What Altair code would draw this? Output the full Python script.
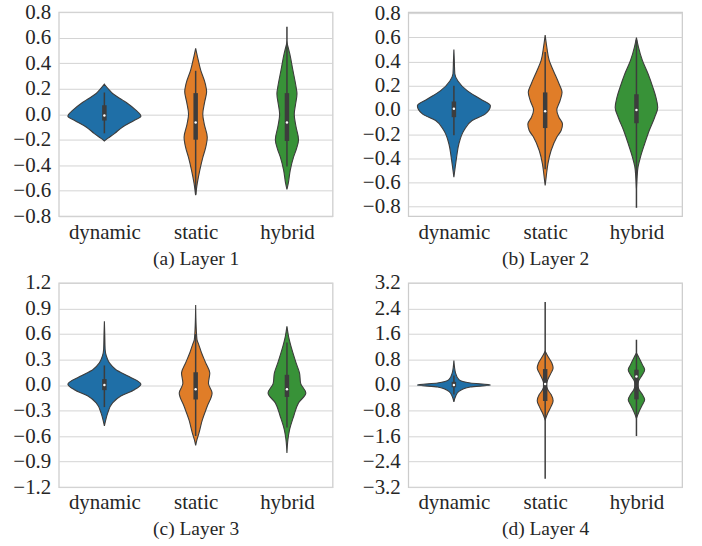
import altair as alt
import pandas as pd

CATEGORIES = ["dynamic", "static", "hybrid"]
PALETTE = ["#1f6fa7", "#e07d28", "#389238"]
CAPTIONS = ["(a) Layer 1", "(b) Layer 2", "(c) Layer 3", "(d) Layer 4"]

# ---- Layer 1 : density profiles (value, relative half-width) ----
L1_DYN_Y = [-0.21, -0.19, -0.152, -0.1, -0.047, -0.016, 0.031, 0.084, 0.11, 0.162, 0.188, 0.235]
L1_DYN_W = [0.0, 0.036, 0.11, 0.2, 0.33, 0.4, 0.345, 0.255, 0.2, 0.09, 0.055, 0.0]
L1_STA_Y = [-0.635, -0.54, -0.44, -0.335, -0.26, -0.18, -0.08, 0.0, 0.1, 0.175, 0.24, 0.345, 0.45, 0.515]
L1_STA_W = [0.0, 0.018, 0.045, 0.08, 0.11, 0.127, 0.095, 0.078, 0.1, 0.12, 0.105, 0.055, 0.02, 0.0]
L1_HYB_Y = [-0.59, -0.54, -0.44, -0.335, -0.27, -0.2, -0.1, 0.0, 0.08, 0.16, 0.214, 0.345, 0.476, 0.56]
L1_HYB_W = [0.0, 0.015, 0.036, 0.073, 0.105, 0.127, 0.1, 0.08, 0.095, 0.11, 0.1, 0.065, 0.03, 0.0]
# box stats: whisker low, q1, median, q3, whisker high (dynamic, static, hybrid)
L1_LO = [-0.15, -0.63, -0.41]
L1_Q1 = [-0.05, -0.2, -0.21]
L1_MED = [-0.01, -0.065, -0.065]
L1_Q3 = [0.07, 0.165, 0.165]
L1_HI = [0.17, 0.34, 0.685]

# ---- Layer 2 ----
L2_DYN_Y = [-0.556, -0.47, -0.39, -0.28, -0.17, -0.088, -0.033, 0.035, 0.09, 0.16, 0.24, 0.3, 0.4, 0.5]
L2_DYN_W = [0.0, 0.015, 0.03, 0.055, 0.11, 0.2, 0.345, 0.4, 0.29, 0.145, 0.044, 0.01, 0.005, 0.0]
L2_STA_Y = [-0.625, -0.556, -0.446, -0.336, -0.226, -0.17, -0.116, -0.06, 0.0, 0.07, 0.146, 0.215, 0.325, 0.41, 0.52, 0.62]
L2_STA_W = [0.0, 0.011, 0.03, 0.065, 0.127, 0.175, 0.19, 0.15, 0.127, 0.16, 0.185, 0.153, 0.09, 0.044, 0.018, 0.0]
L2_HYB_Y = [-0.65, -0.556, -0.47, -0.39, -0.28, -0.17, -0.06, 0.02, 0.1, 0.187, 0.3, 0.41, 0.52, 0.6]
L2_HYB_W = [0.0, 0.007, 0.018, 0.044, 0.09, 0.14, 0.2, 0.233, 0.215, 0.18, 0.127, 0.065, 0.022, 0.0]
L2_LO = [-0.21, -0.49, -0.81]
L2_Q1 = [-0.06, -0.15, -0.11]
L2_MED = [0.01, -0.01, 0.0]
L2_Q3 = [0.07, 0.145, 0.13]
L2_HI = [0.2, 0.48, 0.58]

# ---- Layer 3 ----
L3_DYN_Y = [-0.48, -0.41, -0.33, -0.21, -0.13, -0.055, 0.01, 0.1, 0.18, 0.26, 0.34, 0.42, 0.6, 0.75]
L3_DYN_W = [0.0, 0.015, 0.036, 0.09, 0.18, 0.33, 0.4, 0.27, 0.127, 0.055, 0.022, 0.008, 0.004, 0.0]
L3_STA_Y = [-0.71, -0.64, -0.565, -0.41, -0.25, -0.094, 0.02, 0.14, 0.26, 0.376, 0.49, 0.53, 0.7, 0.94]
L3_STA_W = [0.0, 0.015, 0.036, 0.073, 0.127, 0.18, 0.14, 0.155, 0.11, 0.065, 0.029, 0.015, 0.005, 0.0]
L3_HYB_Y = [-0.8, -0.64, -0.525, -0.37, -0.21, -0.094, 0.02, 0.14, 0.26, 0.415, 0.57, 0.69]
L3_HYB_W = [0.0, 0.011, 0.029, 0.073, 0.127, 0.207, 0.15, 0.138, 0.1, 0.055, 0.018, 0.0]
L3_LO = [-0.26, -0.6, -0.5]
L3_Q1 = [-0.06, -0.17, -0.14]
L3_MED = [0.0, -0.05, -0.05]
L3_Q3 = [0.07, 0.15, 0.12]
L3_HI = [0.23, 0.6, 0.5]

# ---- Layer 4 ----
L4_DYN_Y = [-0.53, -0.36, -0.2, -0.063, 0.0, 0.063, 0.17, 0.38, 0.77]
L4_DYN_W = [0.0, 0.018, 0.055, 0.18, 0.4, 0.18, 0.055, 0.018, 0.0]
L4_STA_Y = [-1.09, -0.88, -0.67, -0.49, -0.3, -0.15, 0.0, 0.17, 0.38, 0.53, 0.69, 0.9, 1.06]
L4_STA_W = [0.0, 0.029, 0.065, 0.087, 0.065, 0.029, 0.011, 0.029, 0.065, 0.087, 0.073, 0.029, 0.0]
L4_HYB_Y = [-1.04, -0.83, -0.62, -0.46, -0.3, -0.146, 0.0, 0.115, 0.32, 0.48, 0.64, 0.85, 1.0]
L4_HYB_W = [0.0, 0.029, 0.065, 0.09, 0.065, 0.029, 0.015, 0.022, 0.065, 0.09, 0.065, 0.029, 0.0]
L4_LO = [-0.3, -2.94, -1.6]
L4_Q1 = [-0.07, -0.5, -0.45]
L4_MED = [0.0, 0.03, 0.27]
L4_Q3 = [0.1, 0.5, 0.48]
L4_HI = [0.3, 2.6, 1.42]

# axis settings per layer
L1_DOMAIN = [-0.8, 0.8]
L2_DOMAIN = [-0.88, 0.81]
L3_DOMAIN = [-1.2, 1.2]
L4_DOMAIN = [-3.2, 3.2]
L1_TICKS = [-0.8, -0.6, -0.4, -0.2, 0.0, 0.2, 0.4, 0.6, 0.8]
L2_TICKS = [-0.8, -0.6, -0.4, -0.2, 0.0, 0.2, 0.4, 0.6, 0.8]
L3_TICKS = [-1.2, -0.9, -0.6, -0.3, 0.0, 0.3, 0.6, 0.9, 1.2]
L4_TICKS = [-3.2, -2.4, -1.6, -0.8, 0.0, 0.8, 1.6, 2.4, 3.2]

FONT = "Liberation Serif"
INK = "#3d3d3d"


def panel(profiles, lo, q1, med, q3, hi, domain, ticks, caption):
    rows = []
    for i, (ys, ws) in enumerate(profiles):
        for y, w in zip(ys, ws):
            rows.append({"cat": CATEGORIES[i], "idx": i, "y": y, "w": w})
    vdf = pd.DataFrame(rows)
    bdf = pd.DataFrame({"cat": CATEGORIES, "idx": list(range(len(CATEGORIES))),
                        "lo": lo, "q1": q1, "med": med, "q3": q3, "hi": hi})

    label_expr = "[" + ",".join("'%s'" % c for c in CATEGORIES) + "][datum.value]"
    xscale = alt.Scale(domain=[-0.5, len(CATEGORIES) - 0.5], nice=False, zero=False)
    yscale = alt.Scale(domain=domain, nice=False, zero=False)
    xaxis = alt.Axis(values=list(range(len(CATEGORIES))), labelExpr=label_expr, grid=False,
                     domain=False, ticks=False, title=caption, labelPadding=5,
                     titlePadding=7)
    yaxis = alt.Axis(values=ticks, format=".1f", grid=True, domain=False, ticks=False,
                     title=None, labelPadding=8)
    color = alt.Color("cat:N", scale=alt.Scale(domain=CATEGORIES, range=PALETTE), legend=None)

    area = alt.Chart(vdf).transform_calculate(
        xa="datum.idx - datum.w", xb="datum.idx + datum.w"
    ).mark_area(orient="horizontal", interpolate="monotone", stroke=INK,
                strokeWidth=1.1, opacity=1).encode(
        y=alt.Y("y:Q", scale=yscale, axis=yaxis),
        x=alt.X("xa:Q", scale=xscale, axis=xaxis),
        x2="xb:Q",
        color=color,
        detail="cat:N",
    )
    whisk = alt.Chart(bdf).mark_rule(color=INK, strokeWidth=1.5).encode(
        x=alt.X("idx:Q", scale=xscale, axis=xaxis),
        y=alt.Y("lo:Q", scale=yscale, axis=yaxis),
        y2="hi:Q",
    )
    box = alt.Chart(bdf).mark_rule(color=INK, strokeWidth=4.5).encode(
        x=alt.X("idx:Q", scale=xscale, axis=xaxis),
        y=alt.Y("q1:Q", scale=yscale, axis=yaxis),
        y2="q3:Q",
    )
    mid = alt.Chart(bdf).mark_point(filled=True, color="white", size=6, opacity=1).encode(
        x=alt.X("idx:Q", scale=xscale, axis=xaxis),
        y=alt.Y("med:Q", scale=yscale, axis=yaxis),
    )
    return alt.layer(area, whisk, box, mid).properties(width=275, height=205)


p1 = panel([(L1_DYN_Y, L1_DYN_W), (L1_STA_Y, L1_STA_W), (L1_HYB_Y, L1_HYB_W)],
           L1_LO, L1_Q1, L1_MED, L1_Q3, L1_HI, L1_DOMAIN, L1_TICKS, CAPTIONS[0])
p2 = panel([(L2_DYN_Y, L2_DYN_W), (L2_STA_Y, L2_STA_W), (L2_HYB_Y, L2_HYB_W)],
           L2_LO, L2_Q1, L2_MED, L2_Q3, L2_HI, L2_DOMAIN, L2_TICKS, CAPTIONS[1])
p3 = panel([(L3_DYN_Y, L3_DYN_W), (L3_STA_Y, L3_STA_W), (L3_HYB_Y, L3_HYB_W)],
           L3_LO, L3_Q1, L3_MED, L3_Q3, L3_HI, L3_DOMAIN, L3_TICKS, CAPTIONS[2])
p4 = panel([(L4_DYN_Y, L4_DYN_W), (L4_STA_Y, L4_STA_W), (L4_HYB_Y, L4_HYB_W)],
           L4_LO, L4_Q1, L4_MED, L4_Q3, L4_HI, L4_DOMAIN, L4_TICKS, CAPTIONS[3])

chart = alt.concat(p1, p2, p3, p4, columns=2, spacing={"row": 67, "column": 76},
                   bounds="flush").resolve_scale(
    x="independent", y="independent"
).properties(
    padding={"left": 12, "top": -1, "right": 19, "bottom": 4}
).configure_view(
    stroke="#cccccc", strokeWidth=1.25
).configure_axis(
    labelFont=FONT, labelFontSize=21, labelColor="#262626",
    titleFont=FONT, titleFontSize=19.5, titleColor="#262626", titleFontWeight="normal",
    gridColor="#d4d4d4", gridWidth=1,
)

chart.save("out.html", embed_options={"renderer": "svg", "actions": False})
